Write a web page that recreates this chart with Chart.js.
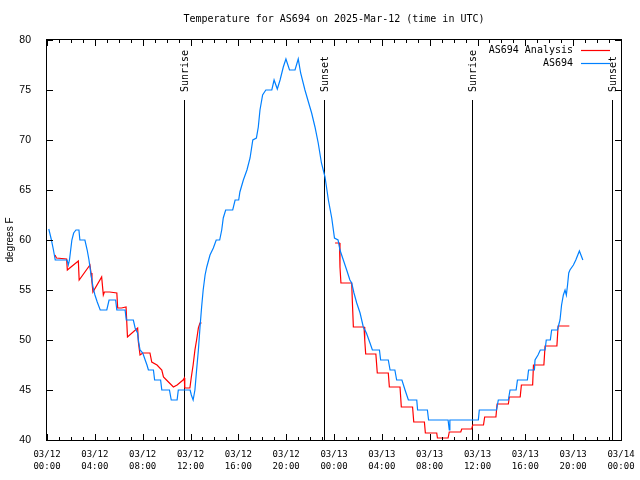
<!DOCTYPE html>
<html><head><meta charset="utf-8">
<script src="https://cdn.jsdelivr.net/npm/chart.js@4/dist/chart.umd.min.js"></script>
<style>html,body{margin:0;padding:0;background:#fff;}canvas{display:block;}</style>
</head><body>
<canvas id="c" width="640" height="480"></canvas>
<script>
// Hours since 03/12 00:00 UTC
const obsHours = [0.15,0.35,0.54,0.69,1.68,1.78,1.88,2.08,2.23,2.42,2.67,2.75,3.17,3.36,3.51,3.66,3.86,4.01,4.20,4.45,5.00,5.19,5.74,5.84,6.53,6.63,7.22,7.37,7.57,7.64,7.78,8.01,8.21,8.36,8.48,8.90,9.00,9.50,9.60,10.24,10.39,10.88,10.98,11.97,12.07,12.22,12.37,12.51,12.66,12.79,12.93,13.06,13.22,13.36,13.63,13.91,14.15,14.44,14.61,14.74,14.94,15.53,15.73,16.03,16.13,16.42,16.72,16.98,17.21,17.51,17.67,17.81,18.03,18.30,18.80,18.99,19.26,19.49,19.76,19.98,20.28,20.74,21.01,21.21,21.57,21.86,22.13,22.41,22.68,22.95,23.25,23.53,23.81,24.04,24.34,24.50,24.78,25.06,25.33,25.48,25.67,25.90,26.18,26.45,26.71,27.01,27.21,27.80,27.90,28.54,28.69,29.09,29.24,29.68,29.94,30.22,30.92,30.99,31.81,31.91,33.54,33.64,33.69,36.07,36.15,37.59,37.74,38.58,38.72,39.23,39.34,40.17,40.27,40.76,40.81,41.06,41.25,41.65,41.75,42.09,42.20,42.69,42.79,42.90,43.03,43.18,43.32,43.43,43.53,43.63,43.73,44.02,44.22,44.52,44.81];
const obsTemps = [61.1,60.1,59,58,58,57.5,58,60,60.7,61,61,60,60,59,58,56.7,55.2,54.5,53.8,53,53,54,54,53,53,52,52,51.2,50.7,50,49,48.7,48,47.5,47,47,46,46,45,45,44,44,45,45,44.5,44,45,47,49,51.2,53.3,55,56.5,57.3,58.5,59.2,60,60,61,62.2,63,63,64,64,64.8,66,67,68.2,70,70.2,71.3,73,74.5,75,75,76,75.1,76,77.3,78.1,77,77,78.1,76.7,75,73.8,72.7,71.3,69.7,67.7,66.3,64,62.2,60.2,60,59,58,57,56,55.7,54.7,53.7,52.7,51.3,50.7,49.7,49,49,48,48,47,47,46,46,45,44,44,43,43,42,42,41,42,42,43,43,44,44,45,45,46,46,47,47,48,48.5,49,49,50,50,51,51,51.5,52,53.5,54.5,55,54.5,55.5,56.7,57,57.5,58,58.9,58];
const anaHours = [0.67,0.79,1.64,1.70,2.62,2.69,3.59,3.68,3.76,3.84,4.57,4.71,4.80,5.24,5.84,5.91,6.23,6.61,6.73,7.58,7.64,7.78,8.01,8.61,8.76,9.20,9.60,9.74,9.99,10.57,10.88,11.38,11.48,11.52,11.95,12.07,12.22,12.37,12.51,12.66,12.79,12.93,18.0,24.09,24.46,24.50,24.58,25.48,25.54,25.62,26.51,26.57,26.65,27.50,27.62,28.54,28.63,29.52,29.63,30.57,30.67,31.56,31.64,32.59,32.65,33.54,33.64,34.60,34.68,35.52,35.60,36.50,36.60,37.54,37.64,38.58,38.66,39.57,39.67,40.61,40.68,41.55,41.65,42.64,42.74,43.68];
const anaTemps = [58.5,58.2,58.1,57,57.9,56,57.5,56.7,55.8,54.8,56.3,54.5,54.8,54.8,54.7,53.2,53.2,53.3,50.3,51.2,49.8,48.5,48.7,48.7,47.8,47.5,47,46.3,46,45.3,45.5,46,46.2,45.2,45.2,46.3,47.5,49,50,51.2,51.7,51.7,null,59.7,59.7,57.3,55.7,55.7,53.7,51.3,51.3,50,48.6,48.6,46.7,46.7,45.3,45.3,43.3,43.3,41.8,41.8,40.7,40.7,40.2,40.2,40.8,40.8,41.1,41.1,41.5,41.5,42.3,42.3,43.6,43.6,44.3,44.3,45.5,45.5,47.5,47.5,49.4,49.4,51.4,51.4];
const tickDays = ['03/12','03/12','03/12','03/12','03/12','03/12','03/13','03/13','03/13','03/13','03/13','03/13','03/14'];
const tickTimes = ['00:00','04:00','08:00','12:00','16:00','20:00','00:00','04:00','08:00','12:00','16:00','20:00','00:00'];
const sunHours = [11.48, 23.19, 35.52, 47.22];
const sunLabels = ['Sunrise','Sunset','Sunrise','Sunset'];
const seriesNames = ['AS694 Analysis', 'AS694'];

const MONO = "'DejaVu Sans Mono', monospace";
const SANS = "'Liberation Sans', Arial, sans-serif";

const gnuplotDecor = {
  id: 'gnuplotDecor',
  beforeDatasetsDraw(chart) {
    const {ctx, chartArea: a, scales: {x}} = chart;
    ctx.save();
    ctx.strokeStyle = '#000';
    ctx.lineWidth = 1;
    const yTop = a.top + 0.15 * (a.bottom - a.top);
    sunHours.forEach(h => {
      const px = Math.round(x.getPixelForValue(h)) + 0.5;
      ctx.beginPath(); ctx.moveTo(px, yTop); ctx.lineTo(px, a.bottom); ctx.stroke();
    });
    ctx.restore();
  },
  afterDatasetsDraw(chart) {
    const {ctx, chartArea: a, scales: {x, y}} = chart;
    ctx.save();
    ctx.strokeStyle = '#000';
    ctx.fillStyle = '#000';
    ctx.lineWidth = 1;
    // border
    ctx.strokeRect(Math.round(a.left) - 0.5, Math.round(a.top) - 0.5, Math.round(a.right - a.left) + 1, Math.round(a.bottom - a.top) + 1);
    // x ticks (hourly minor, 4h major), mirrored
    ctx.beginPath();
    for (let h = 0; h <= 48; h++) {
      const px = Math.round(x.getPixelForValue(h)) + 0.5;
      const len = (h % 4 === 0) ? 6 : 3;
      ctx.moveTo(px, a.bottom); ctx.lineTo(px, a.bottom - len);
      ctx.moveTo(px, a.top); ctx.lineTo(px, a.top + len);
    }
    for (let t = 40; t <= 80; t += 5) {
      const py = Math.round(y.getPixelForValue(t)) + 0.5;
      ctx.moveTo(a.left, py); ctx.lineTo(a.left + 6, py);
      ctx.moveTo(a.right, py); ctx.lineTo(a.right - 6, py);
    }
    ctx.stroke();
    // sun labels
    const yTop = a.top + 0.15 * (a.bottom - a.top);
    ctx.font = '10px ' + MONO;
    ctx.textAlign = 'left';
    ctx.textBaseline = 'middle';
    sunHours.forEach((h, i) => {
      const px = x.getPixelForValue(h) + 1.5;
      ctx.save();
      ctx.translate(px, yTop - 8);
      ctx.rotate(-Math.PI / 2);
      ctx.fillText(sunLabels[i], 0, 0);
      ctx.restore();
    });
    // legend (gnuplot style, top right inside)
    const ds = chart.data.datasets;
    const order = [1, 0];
    ctx.textAlign = 'right';
    order.forEach((di, row) => {
      const ly = a.top + 10 + row * 13;
      ctx.fillStyle = '#000';
      ctx.fillText(ds[di].label, a.right - 48, ly);
      ctx.strokeStyle = ds[di].borderColor;
      ctx.lineWidth = 1.2;
      ctx.beginPath();
      ctx.moveTo(a.right - 40, Math.round(ly) + 0.5);
      ctx.lineTo(a.right - 11, Math.round(ly) + 0.5);
      ctx.stroke();
    });
    ctx.restore();
  }
};

new Chart(document.getElementById('c'), {
  type: 'line',
  data: {
    datasets: [
      {
        label: seriesNames[1],
        data: obsHours.map((h, i) => ({x: h, y: obsTemps[i]})),
        borderColor: '#0080ff',
        borderWidth: 1.2,
        pointRadius: 0,
        tension: 0,
        fill: false
      },
      {
        label: seriesNames[0],
        data: anaHours.map((h, i) => ({x: h, y: anaTemps[i]})),
        borderColor: '#ff0000',
        borderWidth: 1.2,
        pointRadius: 0,
        tension: 0,
        fill: false,
        spanGaps: false
      }
    ]
  },
  options: {
    responsive: false,
    animation: false,
    devicePixelRatio: 1,
    layout: {padding: {left: 0, right: 19, top: 0, bottom: 0}},
    plugins: {
      legend: {display: false},
      tooltip: {enabled: false},
      title: {
        display: true,
        text: 'Temperature for AS694 on 2025-Mar-12 (time in UTC)',
        color: '#000',
        fullSize: false,
        font: {family: MONO, size: 10, weight: 'normal', lineHeight: 1.2},
        padding: {top: 13, bottom: 15}
      }
    },
    scales: {
      x: {
        type: 'linear',
        min: 0, max: 48,
        grid: {display: false},
        border: {display: false},
        ticks: {
          stepSize: 4,
          autoSkip: false,
          maxRotation: 0,
          minRotation: 0,
          padding: 1,
          color: '#000',
          font: {family: MONO, size: 9, lineHeight: 1.28},
          callback: (v) => { const i = Math.round(v / 4); return [tickDays[i], tickTimes[i]]; }
        },
        afterFit: (s) => { s.height = 40; }
      },
      y: {
        min: 40, max: 80,
        grid: {display: false},
        border: {display: false},
        ticks: {
          stepSize: 5,
          padding: 8,
          color: '#000',
          font: {family: SANS, size: 10.5}
        },
        title: {
          display: true,
          text: 'degrees F',
          color: '#000',
          font: {family: SANS, size: 10, lineHeight: 1.2},
          padding: {top: 4, bottom: 0}
        },
        afterFit: (s) => { s.width = 47; }
      }
    }
  },
  plugins: [gnuplotDecor]
});
</script>
</body></html>
